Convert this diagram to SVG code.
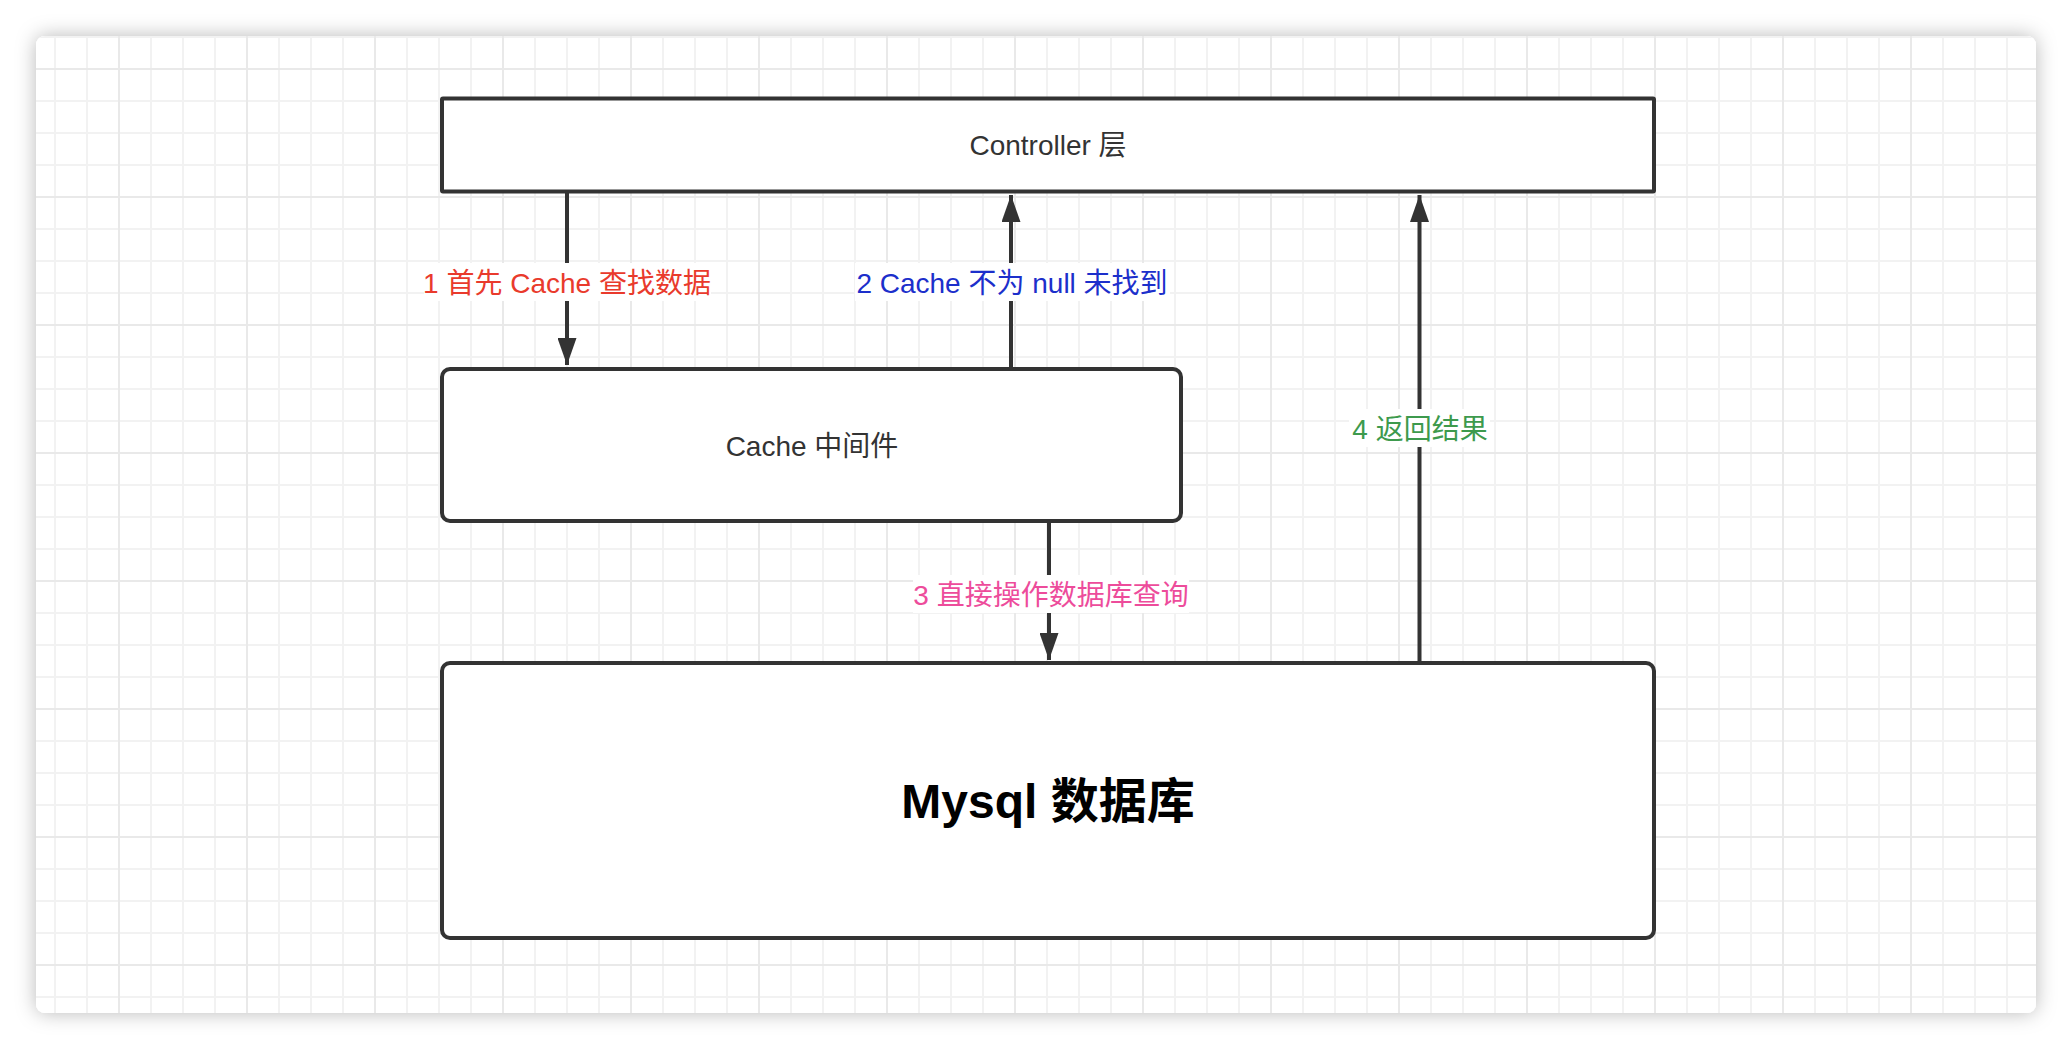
<svg xmlns="http://www.w3.org/2000/svg" width="2072" height="1050" viewBox="0 0 2072 1050">
  <style>
    .box { fill: #ffffff; stroke: #333333; stroke-width: 4; }
    .lbl { font-family: "Liberation Sans", "Noto Sans CJK SC", sans-serif; font-size: 28px; text-anchor: middle; dominant-baseline: central; }
    .node-text { font-family: "Liberation Sans", "Noto Sans CJK SC", sans-serif; font-size: 28px; fill: #333333; text-anchor: middle; dominant-baseline: central; }
    .big-text { font-family: "Liberation Sans", "Noto Sans CJK SC", sans-serif; font-size: 48px; font-weight: bold; fill: #000000; text-anchor: middle; dominant-baseline: central; }
    .edge { stroke: #333333; stroke-width: 4; fill: none; marker-end: url(#arrow); }
    .lbl-bg { fill: #ffffff; }
  </style>
  <defs>
    <filter id="shadow" x="-5%" y="-5%" width="110%" height="110%">
      <feDropShadow dx="0" dy="0" stdDeviation="10" flood-color="#000000" flood-opacity="0.28"/>
    </filter>
    <pattern id="grid" patternUnits="userSpaceOnUse" x="118" y="68" width="128" height="128">
      <rect width="128" height="128" fill="#ffffff"/>
      <path d="M33 0V128M65 0V128M97 0V128M0 33H128M0 65H128M0 97H128" stroke="#f2f2f2" stroke-width="2"/>
      <path d="M1 0V128M0 1H128" stroke="#e9e9e9" stroke-width="2"/>
    </pattern>
    <marker id="arrow" markerUnits="userSpaceOnUse" viewBox="0 0 27 19" markerWidth="27" markerHeight="19" refX="27" refY="9.5" orient="auto">
      <path d="M0 0L27 9.5L0 19Z" fill="#333333"/>
    </marker>
  </defs>

  <rect x="0" y="0" width="2072" height="1050" fill="#ffffff"/>
  <rect x="36" y="36" width="2000" height="977" rx="9" fill="#ffffff" filter="url(#shadow)"/>
  <rect x="36" y="36" width="2000" height="977" rx="9" fill="url(#grid)"/>

  <g id="connectors">
    <line class="edge" x1="567" y1="193" x2="567" y2="365"/>
    <line class="edge" x1="1011" y1="367" x2="1011" y2="195"/>
    <line class="edge" x1="1049" y1="523" x2="1049" y2="660"/>
    <line class="edge" x1="1419.5" y1="661" x2="1419.5" y2="195"/>
    <g id="label-1">
      <rect class="lbl-bg" x="424" y="263" width="287" height="38"/>
      <text class="lbl" x="567" y="283" fill="#e93a2c">1 首先 Cache 查找数据</text>
    </g>
    <g id="label-2">
      <rect class="lbl-bg" x="855" y="263" width="315" height="38"/>
      <text class="lbl" x="1012" y="283" fill="#1c2fcb">2 Cache 不为 null 未找到</text>
    </g>
    <g id="label-3">
      <rect class="lbl-bg" x="913" y="575" width="276" height="38"/>
      <text class="lbl" x="1051" y="595" fill="#ed4c9b">3 直接操作数据库查询</text>
    </g>
    <g id="label-4">
      <rect class="lbl-bg" x="1349" y="409" width="141" height="38"/>
      <text class="lbl" x="1420" y="429" fill="#3d9a4d">4 返回结果</text>
    </g>
  </g>

  <g id="controller">
    <rect class="box" x="442" y="98.5" width="1212" height="93" rx="1"/>
    <text class="node-text" x="1048" y="145">Controller 层</text>
  </g>

  <g id="cache">
    <rect class="box" x="442" y="369" width="739" height="152" rx="8"/>
    <text class="node-text" x="812" y="446">Cache 中间件</text>
  </g>

  <g id="mysql">
    <rect class="box" x="442" y="663" width="1212" height="275" rx="8"/>
    <text class="big-text" x="1048" y="801">Mysql 数据库</text>
  </g>
</svg>
